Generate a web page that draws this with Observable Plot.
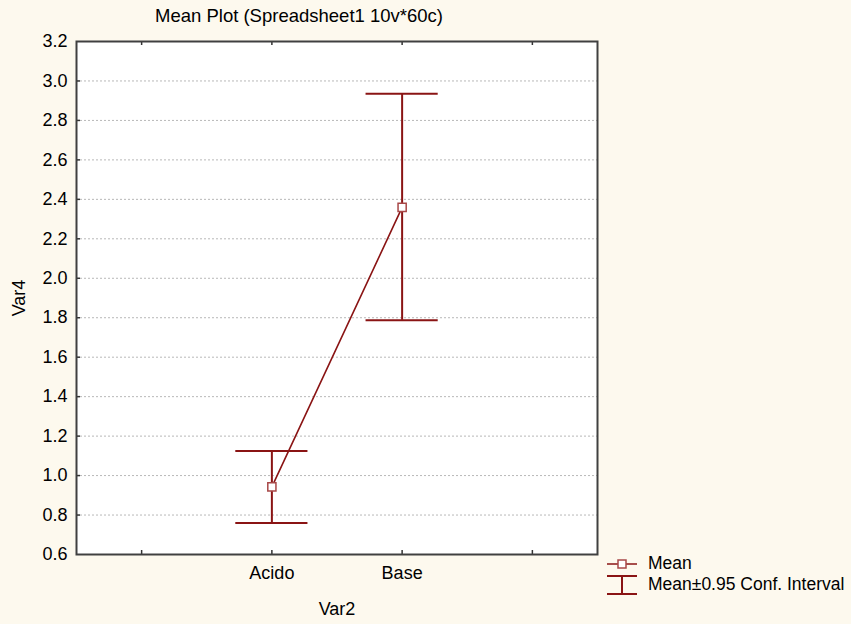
<!DOCTYPE html>
<html>
<head>
<meta charset="utf-8">
<script src="https://cdn.jsdelivr.net/npm/d3@7"></script>
<script src="https://cdn.jsdelivr.net/npm/@observablehq/plot@0.6"></script>
<style>
  html, body { margin: 0; padding: 0; background: #fdf9ee; }
  #wrap { position: relative; width: 851px; height: 624px; background: #fdf9ee; font-family: "Liberation Sans", Arial, sans-serif; color: #000; }
  #title { position: absolute; left: 0; width: 598px; top: 5px; text-align: center; font-size: 18.5px; }
  #legend { position: absolute; left: 604px; top: 553px; font-size: 17.5px; }
  .row { display: flex; align-items: center; height: 21px; }
  .row svg { margin-right: 8px; }
</style>
</head>
<body>
<div id="wrap">
  <div id="title">Mean Plot (Spreadsheet1 10v*60c)</div>
  <div id="chart"></div>
  <div id="legend">
    <div class="row"><svg width="36" height="20"><line x1="3" x2="33" y1="10" y2="10" stroke="#8a1414" stroke-width="1.5"/><rect x="14" y="6" width="8" height="8" fill="white" stroke="#a84848" stroke-width="1.5"/></svg><span>Mean</span></div>
    <div class="row"><svg width="36" height="22"><line x1="3" x2="33" y1="2" y2="2" stroke="#8a1414" stroke-width="2"/><line x1="3" x2="33" y1="20" y2="20" stroke="#8a1414" stroke-width="2"/><line x1="18" x2="18" y1="2" y2="20" stroke="#8a1414" stroke-width="2"/></svg><span>Mean±0.95 Conf. Interval</span></div>
  </div>
</div>
<script>
// ---- data ----
const categories = ["Acido", "Base"];
const means = [0.943, 2.359];
const lower = [0.760, 1.787];
const upper = [1.124, 2.935];
const yTicks = [0.6, 0.8, 1.0, 1.2, 1.4, 1.6, 1.8, 2.0, 2.2, 2.4, 2.6, 2.8, 3.0, 3.2];
const xTickLabels = ["", "Acido", "Base", ""];

const rows = categories.map((c, i) => ({cat: c, pos: i + 1.5, mean: means[i], lo: lower[i], hi: upper[i]}));
const xTickPos = xTickLabels.map((_, i) => i + 0.5);

const W = 851, H = 624;
const mL = 76, mT = 41, mR = W - 597, mB = H - 554;
const innerW = W - mL - mR, innerH = H - mT - mB;
const red = "#8a1414";
const capHalf = 0.277;

const chart = Plot.plot({
  width: W, height: H,
  marginLeft: mL, marginTop: mT, marginRight: mR, marginBottom: mB,
  style: {background: "transparent", fontFamily: "'Liberation Sans', Arial, sans-serif", fontSize: "18px", color: "#000"},
  x: {type: "linear", domain: [0, 4]},
  y: {domain: [0.6, 3.2]},
  marks: [
    Plot.frame({fill: "white", stroke: null}),
    Plot.ruleY(yTicks.slice(1, -1), {stroke: "#b8b8b8", strokeDasharray: "2,2", strokeWidth: 1}),
    Plot.tickY(yTicks.slice(1, -1), {y: d => d, stroke: "#333", strokeWidth: 1.5, insetRight: innerW - 4}),
    Plot.tickX(xTickPos, {x: d => d, stroke: "#333", strokeWidth: 1.5, insetTop: innerH - 4}),
    Plot.tickX(xTickPos, {x: d => d, stroke: "#333", strokeWidth: 1.5, insetBottom: innerH - 4}),
    Plot.axisY({ticks: yTicks, tickFormat: d3.format(".1f"), tickSize: 0, tickPadding: 9, fontSize: 18, label: "Var4", labelAnchor: "center", labelOffset: 64, labelArrow: "none"}),
    Plot.axisX({ticks: xTickPos, tickFormat: d => xTickLabels[Math.floor(d)], tickSize: 0, tickPadding: 12, fontSize: 18, label: "Var2", labelAnchor: "center", labelOffset: 60, labelArrow: "none"}),
    Plot.ruleX(rows, {x: "pos", y1: "lo", y2: "hi", stroke: red, strokeWidth: 2}),
    Plot.ruleY(rows, {y: "hi", x1: d => d.pos - capHalf, x2: d => d.pos + capHalf, stroke: red, strokeWidth: 2}),
    Plot.ruleY(rows, {y: "lo", x1: d => d.pos - capHalf, x2: d => d.pos + capHalf, stroke: red, strokeWidth: 2}),
    Plot.line(rows, {x: "pos", y: "mean", stroke: red, strokeWidth: 1.6}),
    Plot.dot(rows, {x: "pos", y: "mean", symbol: "square", r: 4.6, fill: "white", stroke: "#a84848", strokeWidth: 1.5}),
    Plot.frame({stroke: "#404040", strokeWidth: 2})
  ]
});
document.getElementById("chart").appendChild(chart);
</script>
</body>
</html>
